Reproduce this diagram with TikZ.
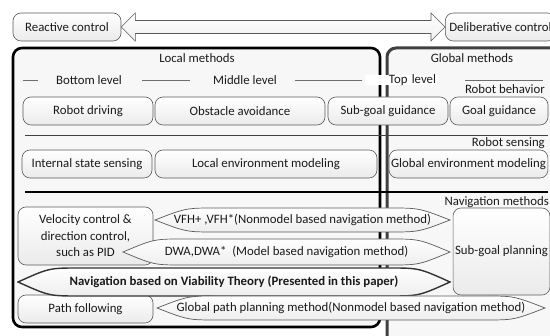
\documentclass[tikz,border=0pt]{standalone}
\usepackage{fontspec}
\setmainfont{Carlito}
\usetikzlibrary{calc}
\definecolor{Ink}{HTML}{1A1A1A}
\definecolor{Edge}{HTML}{5A5A5A}
\definecolor{PanelBg}{HTML}{F7F7F7}
\definecolor{GlobalEdge}{HTML}{404040}
\definecolor{LevelLine}{HTML}{6E6E6E}
% pointed oval drawn inside the node's own rectangle
\newcommand{\lensoutline}{%
  let \p1=(path picture bounding box.south west),
      \p2=(path picture bounding box.north east),
      \p3=(path picture bounding box.west) in
  (\x1+1pt,\y3) .. controls (\x1+32pt,\y2-1pt) .. (\x1+62pt,\y2-1pt)
  -- (\x2-62pt,\y2-1pt) .. controls (\x2-32pt,\y2-1pt) .. (\x2-1pt,\y3)
  .. controls (\x2-32pt,\y1+1pt) .. (\x2-62pt,\y1+1pt)
  -- (\x1+62pt,\y1+1pt) .. controls (\x1+32pt,\y1+1pt) .. (\x1+1pt,\y3) -- cycle}
\tikzset{
  txt/.style={font=\fontsize{12.8}{16.5}\selectfont,text=Ink,inner sep=1pt},
  box/.style={txt,draw=Edge,line width=.6pt,rounded corners=8pt,top color=white,bottom color=black!8,minimum height=28pt,inner sep=2pt},
  hollowarrow/.style={draw=Edge,line width=.6pt,top color=white,bottom color=black!6,line join=miter},
  localpanel/.style={draw=black,line width=2.6pt,rounded corners=9pt,fill=PanelBg},
  globalpanel/.style={draw=GlobalEdge,line width=3pt,rounded corners=9pt,fill=PanelBg},
  lvlline/.style={draw=LevelLine,line width=.9pt},
  sepline/.style={draw=black!75,line width=.9pt},
  lensline/.style={draw=Edge,line width=.7pt,top color=white,bottom color=black!7},
  lens/.style={txt,inner sep=0pt,path picture={\path[lensline] \lensoutline;}},
  boldlens/.style={txt,inner sep=0pt,font=\fontsize{12.8}{16.5}\selectfont\bfseries,
    path picture={\path[lensline,draw=black!80,line width=1.4pt] \lensoutline;}}
}

\begin{document}
\begin{tikzpicture}[x=1pt,y=-1pt]
  \clip (0,0) rectangle (550,336);

  \node[box,minimum width=108pt] (react) at (67,27) {Reactive control};
  \node[box,anchor=west,inner xsep=4pt] (delib) at (445,27) {Deliberative control};
  \coordinate (aL) at (react.east);
  \coordinate (aR) at (delib.west);
  \draw[hollowarrow] (aL) -- ($(aL)+(14,-14)$) -- ($(aL)+(14,-6.5)$) -- ($(aR)+(-14,-6.5)$)
    -- ($(aR)+(-14,-14)$) -- (aR) -- ($(aR)+(-14,14)$) -- ($(aR)+(-14,6.5)$)
    -- ($(aL)+(14,6.5)$) -- ($(aL)+(14,14)$) -- cycle;

  % panels
  \draw[localpanel] (13,48) rectangle (380,327);
  \draw[globalpanel] (387,48) rectangle (580,350);
  \node[txt] (localttl) at (197,58) {Local methods};
  \node[txt] (globalttl) at (472,58) {Global methods};

  % levels
  \draw[lvlline] (23,80) -- (38,80);
  \draw[lvlline] (142,80) -- (190,80);
  \draw[lvlline] (295,80) -- (362,80);
  \draw[lvlline] (465,80) -- (543,80);
  \node[txt] (botlev) at (89,80) {Bottom level};
  \node[txt] (midlev) at (245,80) {Middle level};
  \node[txt,fill=white,text width=70pt,align=right,inner ysep=0pt] (toplev) at (401,80) {Top level};
  \node[txt,anchor=east] (behav) at (546,89) {Robot behavior};

  % behaviour row
  \node[box,minimum width=130pt] (drive) at (88,111) {Robot driving};
  \node[box,minimum width=170pt] (obst) at (240,111) {Obstacle avoidance};
  \node[box,minimum width=120pt] (subguide) at (388,111) {Sub-goal guidance};
  \node[box,minimum width=98pt] (goal) at (499,111) {Goal guidance};

  \draw[sepline] (25,135) -- (548,135);
  \node[txt,anchor=east] (sensing) at (546,143) {Robot sensing};

  % sensing row
  \node[box,minimum width=130pt] (internal) at (87,164) {Internal state sensing};
  \node[box,minimum width=222pt] (localenv) at (266,164) {Local environment modeling};
  \node[box,minimum width=157pt] (globalenv) at (468.5,164) {Global environment modeling};

  \draw[sepline,draw=black,line width=1.4pt] (25,192) -- (548,192);
  \node[txt,anchor=east] (navmeth) at (550,202) {Navigation methods};

  % navigation row
  \node[box,minimum width=135pt,minimum height=58pt,align=center] (velo) at (85.5,236)
    {Velocity control \&\\direction control,\\such as PID};
  \node[box,minimum width=93pt,minimum height=87pt] (subplan) at (501.5,251.5) {Sub-goal planning};
  \node[box,minimum width=135pt] (pathf) at (85.5,309) {Path following};

  \node[lens,minimum width=297pt,minimum height=26pt] (vfh) at (302.5,220)
    {VFH+ ,VFH*(Nonmodel based navigation method)};
  \node[lens,minimum width=329pt,minimum height=28pt] (dwa) at (286.5,252)
    {DWA,DWA*\ \ (Model based navigation method)};
  \node[boldlens,minimum width=434pt,minimum height=30pt] (viab) at (234,282)
    {Navigation based on Viability Theory (Presented in this paper)};
  \node[lens,minimum width=390pt,minimum height=26pt] (gpath) at (351,308)
    {Global path planning method(Nonmodel based navigation method)};
\end{tikzpicture}
\end{document}
